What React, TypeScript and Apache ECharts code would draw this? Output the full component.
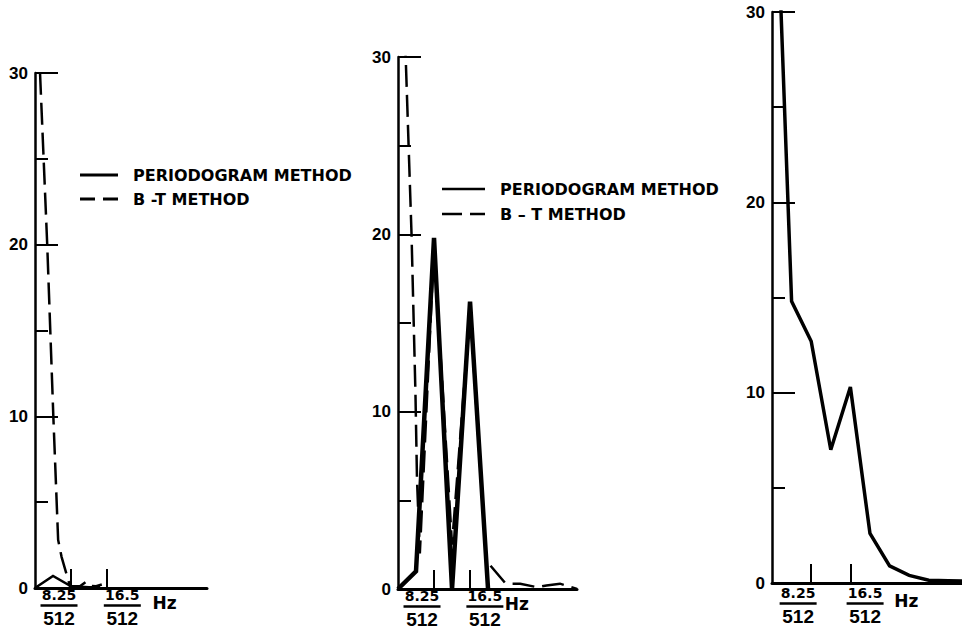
import React, { useEffect, useRef } from "react";
import * as echarts from "echarts";

// ---- data (x in units of 1/512 Hz, y in spectrum units) ----
const xTickValues = [8.25, 16.5];
const xTickLabels = ["8.25", "16.5"];
const denominator = "512";
const unitLabel = "Hz";
const yMax = 30;
const yInterval = 10;

const periodogramName = "PERIODOGRAM METHOD";
const bt1Name = "B -T METHOD";
const bt2Name = "B \u2013 T METHOD";

const p1Periodogram = [[0, 0], [4.125, 0.7], [8.25, 0.1], [12.375, 0.05], [14.9, 0.05]];
const p1BT = [[0, 37], [2.8, 20], [4.2, 10], [5.3, 2.8], [6.1, 1.8], [8.0, 0.12], [10.3, 0.1], [11.6, 0.35], [12.6, 0.12], [14.0, 0.1], [15.3, 0.2]];

const p2Periodogram = [[0, 0], [4.125, 1.0], [8.25, 19.8], [12.375, 0], [16.5, 16.2], [20.625, 0]];
const p2BT = [[0, 38], [1.76, 30], [3.1, 20], [4.0, 11], [4.35, 6.2], [5.0, 2], [8.25, 19.3], [12.375, 2.5], [16.5, 15.8], [20.2, 1.6], [24.5, 0.35], [26, 0.3], [28, 0.3], [31.9, 0.1], [34, 0.2], [37.1, 0.3], [41, 0]];

const p3Spectrum = [[0, 43], [4.125, 14.8], [8.25, 12.7], [12.375, 7.0], [16.5, 10.3], [20.625, 2.6], [24.75, 0.9], [28.875, 0.4], [33, 0.15], [37.125, 0.12], [40, 0.1]];

// ---- layout ----
const panels = [
  { grid: { left: 35, top: 73, width: 172, height: 515 }, xMax: 39.4, labelPos: [5.5, 20.0, 29.7], labelMargin: 0 },
  { grid: { left: 398, top: 57, width: 179, height: 532 }, xMax: 41.0, labelPos: [5.5, 19.9, 27.2], labelMargin: 0 },
  { grid: { left: 772, top: 12, width: 190, height: 571 }, xMax: 40.0, labelPos: [5.5, 19.6, 28.3], labelMargin: 3 },
];

const BLACK = "#000";

// legend icons: a solid bar, and two dashes
const solidIcon = (w: number, h: number) => `path://M0,0H${w}V${h}H0Z`;
const dashIcon = (w: number, h: number, d1: number, gap: number) =>
  `path://M0,0H${d1}V${h}H0Z M${d1 + gap},0H${w}V${h}H${d1 + gap}Z`;

const fraction = (num: string) => `{n|${num}}\n{b| }\n{d|${denominator}}`;

function buildOption() {
  const grid = panels.map((p) => p.grid);
  const xAxis = panels.map((p, i) => ({
    gridIndex: i,
    type: "value",
    min: 0,
    max: p.xMax,
    axisLine: { show: true, onZero: false, lineStyle: { color: BLACK, width: 3 } },
    axisTick: { show: true, inside: true, length: 19, customValues: xTickValues, lineStyle: { color: BLACK, width: 2 } },
    axisLabel: {
      show: true,
      customValues: p.labelPos,
      margin: p.labelMargin,
      color: BLACK,
      formatter: (v: number) => {
        let best = 0;
        p.labelPos.forEach((lp, k) => {
          if (Math.abs(lp - v) < Math.abs(p.labelPos[best] - v)) best = k;
        });
        return best < 2 ? fraction(xTickLabels[best]) : `{hz|${unitLabel}}`;
      },
      rich: {
        n: { fontFamily: "DejaVu Sans", fontWeight: "bold", fontSize: 14, lineHeight: 14, color: BLACK, align: "center" },
        b: { width: 37, height: 2.5, lineHeight: 7, fontSize: 2, backgroundColor: BLACK, align: "center" },
        d: { fontFamily: "Liberation Sans", fontWeight: "bold", fontSize: 19, lineHeight: 19, color: BLACK, align: "center" },
        hz: { fontFamily: "DejaVu Sans", fontWeight: "bold", fontSize: 17, lineHeight: 17, color: BLACK, padding: [12, 0, 0, 0] },
      },
    },
    splitLine: { show: false },
  }));
  const yAxis = panels.map((p, i) => ({
    gridIndex: i,
    type: "value",
    min: 0,
    max: yMax,
    interval: yInterval,
    axisLine: { show: true, onZero: false, lineStyle: { color: BLACK, width: 2.5 } },
    axisTick: { show: true, inside: true, length: 23, lineStyle: { color: BLACK, width: 2 } },
    minorTick: { show: true, splitNumber: 2, length: 13, lineStyle: { color: BLACK, width: 2 } },
    axisLabel: { color: BLACK, fontFamily: "Liberation Sans", fontWeight: "bold", fontSize: 17, margin: 7 },
    splitLine: { show: false },
    minorSplitLine: { show: false },
  }));

  const lineBase = { type: "line", symbol: "none", clip: true, silent: true, color: BLACK, itemStyle: { color: BLACK } };
  const series = [
    { ...lineBase, name: periodogramName, xAxisIndex: 0, yAxisIndex: 0, data: p1Periodogram, lineStyle: { color: BLACK, width: 2.5, join: "miter" }, z: 3 },
    { ...lineBase, name: bt1Name, xAxisIndex: 0, yAxisIndex: 0, data: p1BT, lineStyle: { color: BLACK, width: 2.5, type: [22, 8], join: "miter" }, z: 2 },
    { ...lineBase, name: periodogramName, xAxisIndex: 1, yAxisIndex: 1, data: p2Periodogram, lineStyle: { color: BLACK, width: 4.5, join: "miter", miterLimit: 10 }, z: 3 },
    { ...lineBase, name: bt2Name, xAxisIndex: 1, yAxisIndex: 1, data: p2BT, lineStyle: { color: BLACK, width: 2.5, type: [22, 8], join: "miter" }, z: 2 },
    { ...lineBase, name: "SPECTRUM", xAxisIndex: 2, yAxisIndex: 2, data: p3Spectrum, lineStyle: { color: BLACK, width: 3.5, join: "miter" }, z: 3 },
  ];

  const legendText = { color: BLACK, fontFamily: "DejaVu Sans", fontWeight: "bold", fontSize: 16, lineHeight: 16 };
  const legend = [
    {
      left: 80, top: 167, padding: 0, orient: "vertical", itemWidth: 38, itemHeight: 3, itemGap: 8, selectedMode: false,
      itemStyle: { color: BLACK, borderWidth: 0 },
      textStyle: { ...legendText, padding: [0, 0, 0, 10] },
      data: [
        { name: periodogramName, icon: solidIcon(38, 3), itemStyle: { color: BLACK } },
        { name: bt1Name, icon: dashIcon(38, 3, 15, 8), itemStyle: { color: BLACK } },
      ],
    },
    {
      left: 442, top: 181, padding: 0, orient: "vertical", itemWidth: 43, itemHeight: 2.5, itemGap: 9, selectedMode: false,
      itemStyle: { color: BLACK, borderWidth: 0 },
      textStyle: { ...legendText, padding: [0, 0, 0, 10] },
      data: [
        { name: periodogramName, icon: solidIcon(43, 2.5), itemStyle: { color: BLACK } },
        { name: bt2Name, icon: dashIcon(43, 2.5, 20, 8), itemStyle: { color: BLACK } },
      ],
    },
  ];

  return {
    animation: false,
    backgroundColor: "#fff",
    grid,
    xAxis,
    yAxis,
    legend,
    series,
  };
}

export default function App() {
  const ref = useRef<HTMLDivElement>(null);
  useEffect(() => {
    if (!ref.current) return;
    const chart = echarts.init(ref.current, undefined, { renderer: "svg" });
    chart.setOption(buildOption() as any);
    return () => chart.dispose();
  }, []);
  return (
    <div
      ref={ref}
      style={{ position: "absolute", left: 0, top: 0, width: 962, height: 630, background: "#fff" }}
    />
  );
}
